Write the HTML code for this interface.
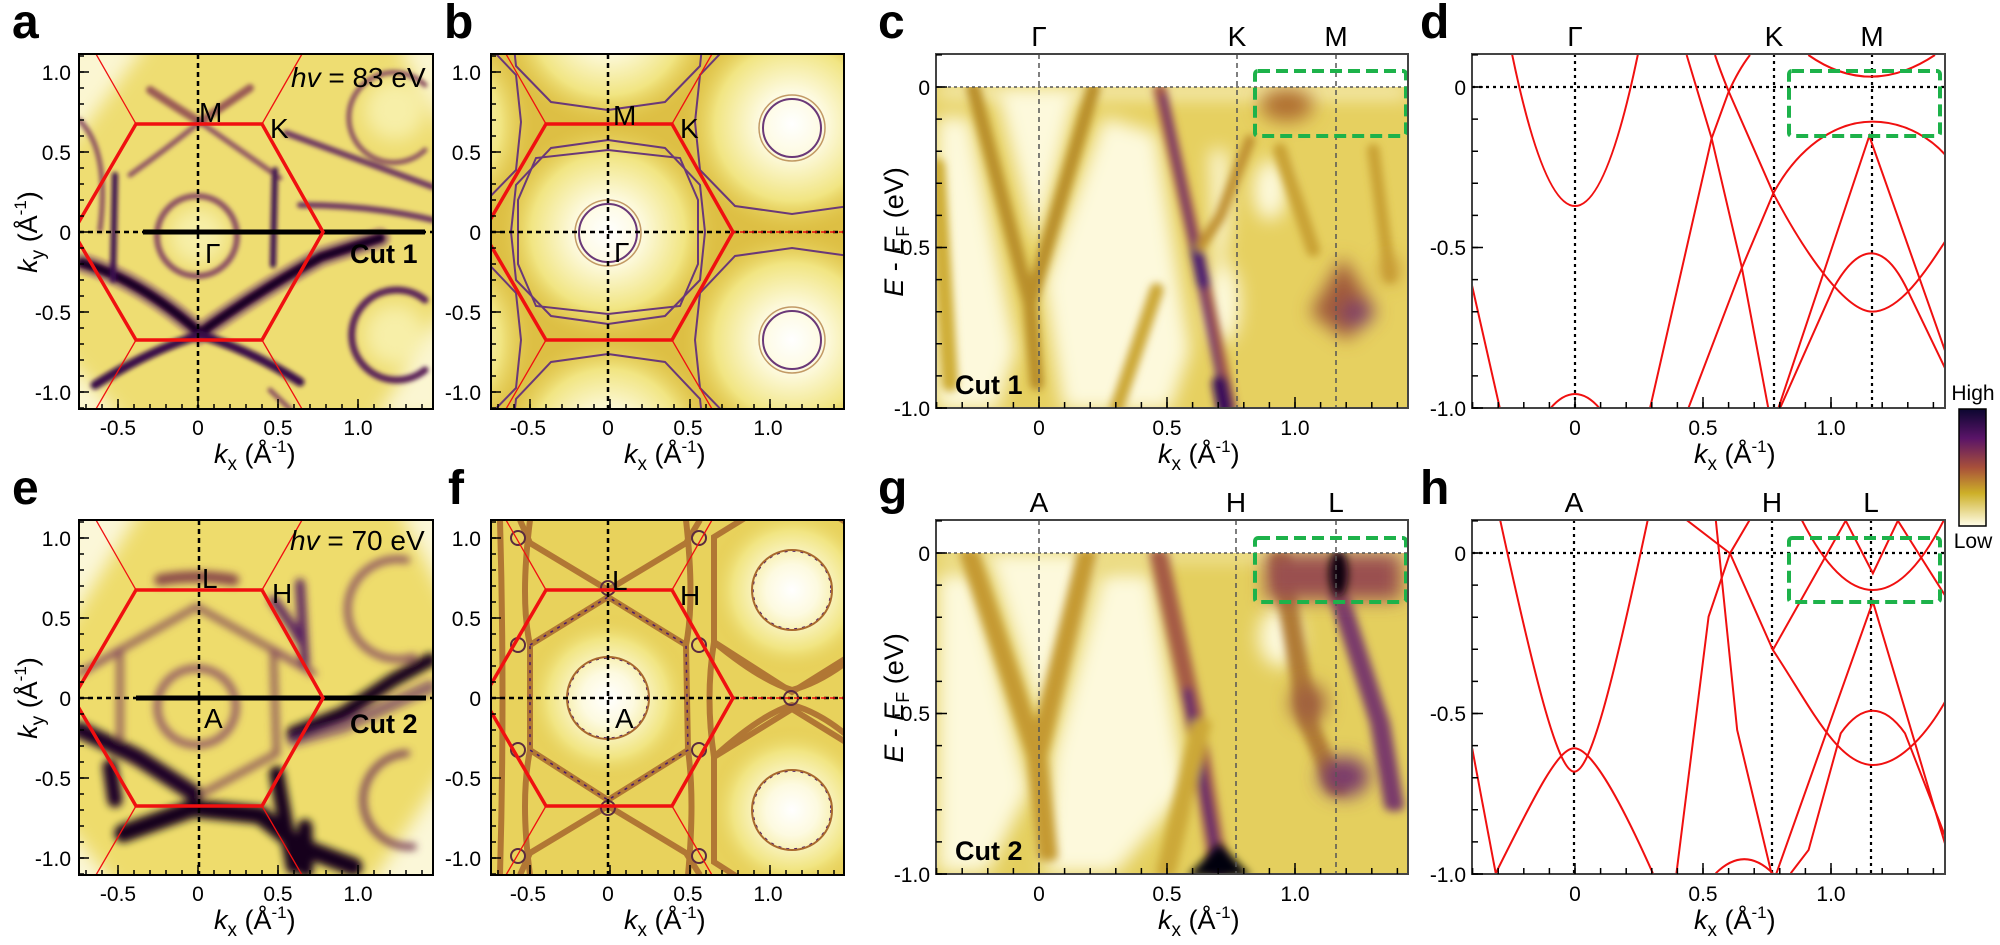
<!DOCTYPE html>
<html><head><meta charset="utf-8"><style>
html,body{margin:0;padding:0;background:#fff;}
svg{display:block;font-family:"Liberation Sans",sans-serif;}
.tl{font-size:21px;fill:#000;}
.ti{font-size:27px;fill:#000;}
.pl{font-size:48px;font-weight:bold;fill:#000;}
.lab{font-size:28px;fill:#000;}
.sym{font-size:27px;fill:#000;}
</style></head><body>
<svg width="2000" height="945" viewBox="0 0 2000 945" xmlns="http://www.w3.org/2000/svg">
<defs>
<filter id="b2" x="-20%" y="-20%" width="140%" height="140%"><feGaussianBlur stdDeviation="2"/></filter>
<filter id="b4" x="-20%" y="-20%" width="140%" height="140%"><feGaussianBlur stdDeviation="4"/></filter>
<filter id="b8" x="-30%" y="-30%" width="160%" height="160%"><feGaussianBlur stdDeviation="9"/></filter>
<filter id="z12" x="-30%" y="-30%" width="160%" height="160%"><feGaussianBlur stdDeviation="12"/></filter>
<filter id="z27" x="-40%" y="-40%" width="180%" height="180%"><feGaussianBlur stdDeviation="27"/></filter>
<filter id="g12" x="-30%" y="-30%" width="160%" height="160%"><feGaussianBlur stdDeviation="6 13"/></filter>
<filter id="g27" x="-40%" y="-40%" width="180%" height="180%"><feGaussianBlur stdDeviation="13 28"/></filter>
<clipPath id="cA"><rect x="79" y="54" width="354" height="355"/></clipPath>
<clipPath id="cB"><rect x="491" y="54" width="353" height="355"/></clipPath>
<clipPath id="cE"><rect x="79" y="520" width="354" height="355"/></clipPath>
<clipPath id="cF"><rect x="491" y="520" width="353" height="355"/></clipPath>
<clipPath id="cC"><rect x="936" y="54" width="472" height="354"/></clipPath>
<clipPath id="cG"><rect x="936" y="520" width="472" height="354"/></clipPath>
<clipPath id="cD"><rect x="1472" y="54" width="473" height="354"/></clipPath>
<clipPath id="cH"><rect x="1472" y="520" width="473" height="354"/></clipPath>
<radialGradient id="rg" cx="0.5" cy="0.5" r="0.5">
<stop offset="0" stop-color="#ffffff"/><stop offset="0.3" stop-color="#fdfae0"/><stop offset="0.7" stop-color="#f1e582"/><stop offset="1" stop-color="#e2c84c" stop-opacity="0"/>
</radialGradient>
<linearGradient id="cbar" x1="0" y1="0" x2="0" y2="1">
<stop offset="0" stop-color="#0c0630"/><stop offset="0.25" stop-color="#5a1468"/><stop offset="0.5" stop-color="#a8503a"/><stop offset="0.72" stop-color="#cdb028"/><stop offset="1" stop-color="#fffde8"/>
</linearGradient>

<g id="tkA" stroke="#000" stroke-width="1.5" fill="none">
<path d="M86,409v-5m16,5v-5m16,5v-5m16,5v-5m16,5v-5m16,5v-5m16,5v-5m16,5v-5m16,5v-5m16,5v-5m16,5v-5m16,5v-5m16,5v-5m16,5v-5m16,5v-5m16,5v-5m16,5v-5m16,5v-5m16,5v-5m16,5v-5m16,5v-5m16,5v-5"/>
<path d="M118,409v-10M198,409v-10M278,409v-10M358,409v-10"/>
<path d="M79,56h5m-5,16h5m-5,16h5m-5,16h5m-5,16h5m-5,16h5m-5,16h5m-5,16h5m-5,16h5m-5,16h5m-5,16h5m-5,16h5m-5,16h5m-5,16h5m-5,16h5m-5,16h5m-5,16h5m-5,16h5m-5,16h5m-5,16h5m-5,16h5m-5,16h5m-5,16h5"/>
<path d="M79,72h10M79,152h10M79,232h10M79,312h10M79,392h10"/>
</g>
<g id="lbA">
<g class="tl" text-anchor="end"><text x="71" y="80">1.0</text><text x="71" y="160">0.5</text><text x="71" y="240">0</text><text x="71" y="320">-0.5</text><text x="71" y="400">-1.0</text></g>
<g class="tl" text-anchor="middle"><text x="118" y="435">-0.5</text><text x="198" y="435">0</text><text x="278" y="435">0.5</text><text x="358" y="435">1.0</text></g>
<text class="ti" x="214" y="463"><tspan font-style="italic">k</tspan><tspan font-size="19" dy="7">x</tspan><tspan dy="-7"> (Å</tspan><tspan font-size="17" dy="-11">-1</tspan><tspan dy="11">)</tspan></text>
</g>
<g id="hexA" fill="none" stroke="#f01010">
<polygon points="136,124 262,124 323,232 262,340 136,340 73,232" stroke-width="3.5"/>
<path d="M136,124 L96,54 M262,124 L302,54 M136,340 L96,409 M262,340 L302,409" stroke-width="1.3"/>
</g>
<g id="tkC" stroke="#000" stroke-width="1.5" fill="none">
<path d="M936.6,408v-6m25.6,6v-6m25.6,6v-6m25.6,6v-6m25.6,6v-6m25.6,6v-6m25.6,6v-6m25.6,6v-6m25.6,6v-6m25.6,6v-6m25.6,6v-6m25.6,6v-6m25.6,6v-6m25.6,6v-6m25.6,6v-6m25.6,6v-6m25.6,6v-6m25.6,6v-6m25.6,6v-6"/>
<path d="M1039,408v-11M1167,408v-11M1295,408v-11"/>
<path d="M936,54.9h6m-6,32.1h6m-6,32.1h6m-6,32.1h6m-6,32.1h6m-6,32.1h6m-6,32.1h6m-6,32.1h6m-6,32.1h6m-6,32.1h6m-6,32.1h6m-6,32.1h6"/>
<path d="M936,87h11M936,247.5h11M936,408h11"/>
</g>
<g id="lbC">
<g class="tl" text-anchor="end"><text x="930" y="95">0</text><text x="930" y="255">-0.5</text><text x="930" y="416">-1.0</text></g>
<g class="tl" text-anchor="middle"><text x="1039" y="435">0</text><text x="1167" y="435">0.5</text><text x="1295" y="435">1.0</text></g>
<text class="ti" x="1158" y="463"><tspan font-style="italic">k</tspan><tspan font-size="19" dy="7">x</tspan><tspan dy="-7"> (Å</tspan><tspan font-size="17" dy="-11">-1</tspan><tspan dy="11">)</tspan></text>
</g>
</defs>

<!-- ================= PANEL A ================= -->
<g clip-path="url(#cA)">
<rect x="79" y="54" width="354" height="355" fill="#eedd72"/>
<g filter="url(#b8)" fill="#fbf6d2">
<polygon points="60,40 150,40 60,160"/><polygon points="60,350 60,420 125,420"/><polygon points="395,40 450,40 450,140"/><polygon points="450,300 450,420 375,420"/>
<ellipse cx="198" cy="236" rx="28" ry="28" fill="#f7efa8"/>
<ellipse cx="395" cy="110" rx="30" ry="30" fill="#f7efa8"/><ellipse cx="395" cy="335" rx="30" ry="30" fill="#f7efa8"/>
</g>
<g filter="url(#b2)" fill="none" stroke-linecap="round">
<circle cx="197" cy="236" r="40" stroke="#8a4d62" stroke-width="6"/>
<path d="M150,90 Q180,110 200,122 Q225,105 250,88" stroke="#9a5a55" stroke-width="8"/>
<path d="M200,122 Q165,150 130,175 M200,122 Q240,150 280,178" stroke="#8a4d62" stroke-width="5"/>
<path d="M82,263 Q140,280 200,333 Q260,290 321,257 L380,238" stroke="#5a1d66" stroke-width="20" opacity="0.45"/>
<path d="M82,263 Q140,280 200,333 Q260,290 321,257 L380,238" stroke="#1a0525" stroke-width="10"/>
<path d="M95,385 Q150,350 200,335 Q250,350 300,382" stroke="#3a0d4a" stroke-width="9"/>
<path d="M115,175 L113,280 M275,170 L273,265" stroke="#3a1050" stroke-width="6"/>
<path d="M286,133 Q360,160 433,187 M300,205 Q370,205 433,220" stroke="#6a3060" stroke-width="6"/>
<path d="M425,85 A45,45 0 1 0 425,150" stroke="#8a5060" stroke-width="5"/>
<path d="M425,300 A45,45 0 1 0 425,370" stroke="#5a2058" stroke-width="7"/>
<path d="M79,120 Q110,150 100,230 M270,390 L290,409" stroke="#8a5060" stroke-width="5"/>
</g>
</g>
<g fill="none" clip-path="url(#cA)">
<path d="M198,54 V409 M79,232 H433" stroke="#000" stroke-width="2.5" stroke-dasharray="5,4"/>
<path d="M143,232 H425" stroke="#000" stroke-width="5"/>
<use href="#hexA"/>
</g>
<rect x="79" y="54" width="354" height="355" fill="none" stroke="#000" stroke-width="2"/>
<use href="#tkA"/><use href="#lbA"/>
<text class="lab" x="199" y="122">M</text><text class="lab" x="270" y="138">K</text><text class="lab" x="205" y="263">Γ</text>
<text class="lab" x="291" y="87"><tspan font-style="italic">hv</tspan> = 83 eV</text>
<text class="sym" x="350" y="263" font-weight="bold">Cut 1</text>
<text class="pl" x="12" y="38">a</text>
<text class="ti" transform="translate(37,232) rotate(-90)" text-anchor="middle"><tspan font-style="italic">k</tspan><tspan font-size="19" dy="7">y</tspan><tspan dy="-7"> (Å</tspan><tspan font-size="17" dy="-11">-1</tspan><tspan dy="11">)</tspan></text>

<!-- ================= PANEL B ================= -->
<g clip-path="url(#cB)">
<rect x="491" y="54" width="353" height="355" fill="#ddbf44"/>
<g fill="url(#rg)">
<circle cx="608" cy="232" r="110"/><circle cx="792" cy="124" r="110"/><circle cx="792" cy="340" r="110"/>
<circle cx="608" cy="18" r="110"/><circle cx="608" cy="446" r="110"/><circle cx="424" cy="124" r="110"/><circle cx="424" cy="340" r="110"/>
</g>
<g fill="none" stroke="#6a3878" stroke-width="2">
<circle cx="608" cy="233" r="29"/><circle cx="792" cy="128" r="29"/><circle cx="792" cy="340" r="29"/>
<polygon points="608,140 665,148 700,185 705,232 700,280 665,316 608,324 551,316 516,280 511,232 516,185 551,148"/>
<polygon points="608,150 680,158 698,200 698,264 680,306 608,314 536,306 518,264 518,200 536,158"/>
<polygon points="792,30 849,38 884,75 889,122 884,170 849,206 792,214 735,206 700,170 695,122 700,75 735,38"/>
<polygon points="792,248 849,256 884,293 889,340 884,388 849,424 792,432 735,424 700,388 695,340 700,293 735,256"/>
<polygon points="608,-74 665,-66 700,-29 705,18 700,66 665,102 608,110 551,102 516,66 511,18 516,-29 551,-66"/>
<polygon points="608,354 665,362 700,399 705,446 700,494 665,530 608,538 551,530 516,494 511,446 516,399 551,362"/>
<polygon points="424,30 481,38 516,75 521,122 516,170 481,206 424,214 367,206 332,170 327,122 332,75 367,38"/>
<polygon points="424,248 481,256 516,293 521,340 516,388 481,424 424,432 367,424 332,388 327,340 332,293 367,256"/>
</g>
<g fill="none" stroke="#a87030" stroke-width="1.5" opacity="0.7">
<circle cx="608" cy="233" r="33"/><circle cx="792" cy="128" r="33"/><circle cx="792" cy="340" r="33"/>
</g>
<path d="M608,54 V409 M491,232 H844" stroke="#000" stroke-width="2.5" stroke-dasharray="5,4" fill="none"/>
<path d="M731,232 H844" stroke="#f01010" stroke-width="1.5" stroke-dasharray="5,4"/>
<use href="#hexA" x="410"/>
</g>
<rect x="491" y="54" width="353" height="355" fill="none" stroke="#000" stroke-width="2"/>
<use href="#tkA" x="412"/><use href="#lbA" x="410"/>
<text class="lab" x="613" y="125">M</text><text class="lab" x="680" y="138">K</text><text class="lab" x="614" y="262">Γ</text>
<text class="pl" x="444" y="38">b</text>

<!-- ================= PANEL E ================= -->
<g clip-path="url(#cE)">
<rect x="79" y="520" width="354" height="355" fill="#eedc6c"/>
<g transform="translate(60,500) scale(0.3333)">
<g filter="url(#z27)" fill="#fbf7d8">
<polygon points="0,0 260,0 0,420"/><polygon points="0,950 0,1200 200,1200"/><polygon points="1000,0 1200,0 1200,380"/><polygon points="1200,750 1200,1200 900,1200"/>
</g>
<g filter="url(#z12)" fill="none" stroke-linecap="round">
<ellipse cx="410" cy="620" rx="118" ry="115" stroke="#8a4d62" stroke-width="20"/>
<polygon points="180,450 410,320 640,450 650,760 410,890 180,760" stroke="#905a5a" stroke-width="20"/>
<path d="M300,240 Q410,220 520,240" stroke="#8a4a4a" stroke-width="35"/>
<path d="M720,250 L735,500 M640,300 Q700,380 720,420" stroke="#5a2060" stroke-width="28"/>
<path d="M60,690 L230,770 L400,880" stroke="#1a0525" stroke-width="50"/>
<path d="M150,800 L165,900" stroke="#1a0525" stroke-width="45"/>
<path d="M190,1000 L400,925 L600,945 L720,1040 L880,1100" stroke="#12031c" stroke-width="55"/>
<path d="M650,820 L700,1100 M735,980 L738,1110" stroke="#12031c" stroke-width="45"/>
<path d="M700,700 L850,640 L1000,540 L1110,480" stroke="#12031c" stroke-width="42"/>
<path d="M700,720 L850,680 L1110,560" stroke="#5a1d66" stroke-width="40" opacity="0.6"/>
<path d="M1040,180 A150,150 0 1 0 1060,470" stroke="#8a5060" stroke-width="20"/>
<path d="M1040,760 A140,140 0 1 0 1060,1040" stroke="#7a4058" stroke-width="20"/>
<path d="M180,450 L60,520 M640,450 L760,520" stroke="#8a5060" stroke-width="20"/>
</g>
</g>
</g>
<g fill="none" clip-path="url(#cE)">
<path d="M199,520 V875 M79,698 H433" stroke="#000" stroke-width="2.5" stroke-dasharray="5,4"/>
<path d="M136,698 H426" stroke="#000" stroke-width="5"/>
<use href="#hexA" y="466"/>
</g>
<rect x="79" y="520" width="354" height="355" fill="none" stroke="#000" stroke-width="2"/>
<use href="#tkA" y="466"/><use href="#lbA" y="466"/>
<text class="lab" x="202" y="588">L</text><text class="lab" x="272" y="603">H</text><text class="lab" x="204" y="728">A</text>
<text class="lab" x="290" y="550"><tspan font-style="italic">hv</tspan> = 70 eV</text>
<text class="sym" x="350" y="733" font-weight="bold">Cut 2</text>
<text class="pl" x="12" y="504">e</text>
<text class="ti" transform="translate(37,698) rotate(-90)" text-anchor="middle"><tspan font-style="italic">k</tspan><tspan font-size="19" dy="7">y</tspan><tspan dy="-7"> (Å</tspan><tspan font-size="17" dy="-11">-1</tspan><tspan dy="11">)</tspan></text>

<!-- ================= PANEL F ================= -->
<g clip-path="url(#cF)">
<rect x="491" y="520" width="353" height="355" fill="#e8d25c"/>
<g fill="url(#rg)">
<circle cx="608" cy="698" r="85"/><circle cx="792" cy="590" r="85"/><circle cx="792" cy="810" r="85"/>
</g>
<g fill="none" stroke="#a8682e" stroke-width="6" opacity="0.85">
<polygon points="530,645 608,597 686,645 688,750 608,800 530,750"/>
<polygon points="714,537 792,489 870,537 872,642 792,692 714,642"/>
<polygon points="714,757 792,709 870,757 872,862 792,912 714,862"/>
<path d="M608,590 L530,543 L520,520 M608,590 L686,543 L700,520 M608,806 L530,853 L520,875 M608,806 L686,853 L700,875"/>
<path d="M530,520 Q520,600 530,645 M530,750 Q520,800 530,875 M686,520 Q695,600 686,645 M688,750 Q695,800 688,875"/>
<path d="M500,520 Q505,698 500,875 M714,642 Q705,698 714,757 M870,642 Q880,698 870,757"/>
<path d="M714,642 Q760,680 792,690 Q830,680 870,642 M714,757 Q760,715 792,705 Q830,715 870,757"/>
</g>
<g fill="none" stroke="#4a1a6a" stroke-width="1.5" stroke-dasharray="3,5">
<polygon points="530,645 608,597 686,645 688,750 608,800 530,750"/>
<circle cx="608" cy="698" r="40"/><circle cx="792" cy="590" r="39"/><circle cx="792" cy="810" r="39"/>
</g>
<g fill="none" stroke="#a8682e" stroke-width="2">
<circle cx="608" cy="698" r="41"/><circle cx="792" cy="590" r="40"/><circle cx="792" cy="810" r="40"/>
<circle cx="608" cy="588" r="7" stroke="#5a2a40"/><circle cx="608" cy="808" r="7" stroke="#5a2a40"/><circle cx="791" cy="698" r="7" stroke="#5a2a40"/>
<circle cx="518" cy="538" r="7" stroke="#5a2a40"/><circle cx="699" cy="538" r="7" stroke="#5a2a40"/><circle cx="518" cy="645" r="7" stroke="#5a2a40"/><circle cx="699" cy="645" r="7" stroke="#5a2a40"/>
<circle cx="518" cy="750" r="7" stroke="#5a2a40"/><circle cx="699" cy="750" r="7" stroke="#5a2a40"/><circle cx="518" cy="856" r="7" stroke="#5a2a40"/><circle cx="699" cy="856" r="7" stroke="#5a2a40"/>
</g>
<path d="M608,520 V875 M491,698 H844" stroke="#000" stroke-width="2.5" stroke-dasharray="5,4" fill="none"/>
<path d="M731,698 H844" stroke="#f01010" stroke-width="1.5" stroke-dasharray="5,4"/>
<use href="#hexA" x="410" y="466"/>
</g>
<rect x="491" y="520" width="353" height="355" fill="none" stroke="#000" stroke-width="2"/>
<use href="#tkA" x="412" y="466"/><use href="#lbA" x="410" y="466"/>
<text class="lab" x="612" y="590">L</text><text class="lab" x="680" y="605">H</text><text class="lab" x="615" y="728">A</text>
<text class="pl" x="448" y="504">f</text>

<!-- ================= PANEL C ================= -->
<g clip-path="url(#cC)">
<rect x="936" y="87" width="472" height="321" fill="#e6d060"/>
<g transform="translate(930,50) scale(0.3333)">
<g filter="url(#z27)" fill="#fdf9dc">
<polygon points="20,200 120,200 260,900 200,1080 20,1080"/>
<polygon points="200,130 440,130 320,600"/>
<polygon points="520,200 680,250 780,900 720,1080 400,1080 340,700"/>
<polygon points="840,300 890,300 900,500 860,800"/>
<ellipse cx="1020" cy="420" rx="50" ry="90"/>
<ellipse cx="880" cy="760" rx="50" ry="120"/>
<polygon points="20,110 1430,110 1430,140 20,140"/>
</g>
<g filter="url(#z12)" fill="none" stroke-linecap="round">
<path d="M130,115 L300,760 L320,1000" stroke="#b98f2a" stroke-width="42"/>
<path d="M490,115 L300,760" stroke="#b98f2a" stroke-width="42"/>
<path d="M20,350 L60,1000" stroke="#cfae38" stroke-width="50"/>
<path d="M690,120 L800,600 L900,1075" stroke="#a55a45" stroke-width="40"/>
<path d="M700,140 L800,620 L880,1050" stroke="#6a2a70" stroke-width="16"/>
<path d="M800,600 L820,700" stroke="#4a1a70" stroke-width="38"/>
<path d="M870,1000 L885,1075" stroke="#3a0a5a" stroke-width="48"/>
<path d="M810,590 L870,500 L960,270" stroke="#bf9030" stroke-width="32"/>
<path d="M680,720 L560,1075" stroke="#cca838" stroke-width="42"/>
<path d="M1050,300 L1150,600" stroke="#c9a235" stroke-width="42"/>
<path d="M1330,300 L1380,680" stroke="#c9a235" stroke-width="38"/>
</g>
<g filter="url(#z27)">
<ellipse cx="1070" cy="165" rx="80" ry="50" fill="#b07030"/>
<polygon points="1240,620 1340,790 1250,870 1140,790" fill="#a05a3a"/>
<ellipse cx="1280" cy="790" rx="45" ry="35" fill="#7a3a6a"/>
<ellipse cx="1380" cy="660" rx="30" ry="40" fill="#c89a38"/>
</g>
</g>
</g>
<rect x="936" y="54" width="472" height="33" fill="#fff"/>
<g fill="none" stroke="#555" stroke-width="1.5" stroke-dasharray="5,4">
<path d="M1039,54 V408 M1237,54 V408 M1336,54 V408"/>
<path d="M936,87 H1408" stroke-dasharray="3,3"/>
</g>
<rect x="1255" y="71" width="151" height="65" rx="3" fill="none" stroke="#1db24a" stroke-width="4" stroke-dasharray="12,6"/>
<rect x="936" y="54" width="472" height="354" fill="none" stroke="#444" stroke-width="2"/>
<use href="#tkC"/><use href="#lbC"/>
<text class="sym" x="955" y="394" font-weight="bold" font-size="25">Cut 1</text>
<g class="lab" text-anchor="middle"><text x="1039" y="46">Γ</text><text x="1237" y="46">K</text><text x="1336" y="46">M</text></g>
<text class="pl" x="878" y="38">c</text>
<text class="ti" transform="translate(903,232) rotate(-90)" text-anchor="middle"><tspan font-style="italic">E</tspan> - <tspan font-style="italic">E</tspan><tspan font-size="18" dy="6">F</tspan><tspan dy="-6"> (eV)</tspan></text>

<!-- ================= PANEL G ================= -->
<g clip-path="url(#cG)">
<rect x="936" y="553" width="472" height="321" fill="#e4cf5e"/>
<g transform="translate(880,490) scale(0.7143,0.3333)">
<g filter="url(#g27)" fill="#fdf9dc">
<polygon points="80,250 130,250 210,900 150,1150 80,1150"/>
<polygon points="150,200 300,200 225,700"/>
<polygon points="310,250 380,250 430,900 330,1150 230,1150 240,800"/>
<ellipse cx="560" cy="440" rx="30" ry="90"/>
<polygon points="80,185 740,185 740,205 80,205"/>
</g>
<g filter="url(#g12)" fill="none" stroke-linecap="round">
<path d="M125,190 L220,800 L235,1100" stroke="#c59a30" stroke-width="28"/>
<path d="M290,190 L220,800" stroke="#c59a30" stroke-width="28"/>
<path d="M390,190 L440,680 L475,1150" stroke="#a55a45" stroke-width="26"/>
<path d="M430,600 L475,1150" stroke="#5a1a70" stroke-width="12"/>
<path d="M560,200 L600,700 L640,900" stroke="#b07a35" stroke-width="28"/>
<path d="M640,300 L700,700 L720,950" stroke="#7a3a6a" stroke-width="28"/>
<path d="M450,700 L400,1150" stroke="#cca838" stroke-width="28"/>
</g>
<g filter="url(#g27)">
<rect x="540" y="190" width="190" height="140" fill="#9a5050"/>
<ellipse cx="650" cy="860" rx="35" ry="60" fill="#7a3a6a"/>
<ellipse cx="600" cy="640" rx="25" ry="60" fill="#a06040"/>
</g>
<g filter="url(#g12)">
<ellipse cx="642" cy="250" rx="13" ry="70" fill="#0a0010"/>
<polygon points="430,1160 475,1060 520,1160" fill="#05000a"/>
</g>
</g>
</g>
<rect x="936" y="520" width="472" height="33" fill="#fff"/>
<g fill="none" stroke="#555" stroke-width="1.5" stroke-dasharray="5,4">
<path d="M1039,520 V874 M1236,520 V874 M1336,520 V874"/>
<path d="M936,553 H1408" stroke-dasharray="3,3"/>
</g>
<rect x="1255" y="538" width="151" height="64" rx="3" fill="none" stroke="#1db24a" stroke-width="4" stroke-dasharray="12,6"/>
<rect x="936" y="520" width="472" height="354" fill="none" stroke="#444" stroke-width="2"/>
<use href="#tkC" y="466"/><use href="#lbC" y="466"/>
<text class="sym" x="955" y="860" font-weight="bold" font-size="25">Cut 2</text>
<g class="lab" text-anchor="middle"><text x="1039" y="512">A</text><text x="1236" y="512">H</text><text x="1336" y="512">L</text></g>
<text class="pl" x="878" y="504">g</text>
<text class="ti" transform="translate(903,698) rotate(-90)" text-anchor="middle"><tspan font-style="italic">E</tspan> - <tspan font-style="italic">E</tspan><tspan font-size="18" dy="6">F</tspan><tspan dy="-6"> (eV)</tspan></text>

<!-- ================= PANEL D ================= -->
<g clip-path="url(#cD)">
<g fill="none" stroke="#000" stroke-width="2.2" stroke-dasharray="3,4">
<path d="M1575,54 V408 M1774,54 V408 M1872,54 V408 M1472,87 H1945"/>
</g>
<g fill="none" stroke="#f01010" stroke-width="2">
<path d="M1511,49 Q1575,363 1639,49"/>
<path d="M1549,410 Q1575,378 1601,410"/>
<path d="M1471,281 L1500,409"/>
<g transform="translate(1620,50) scale(0.3333)">
<path vector-effect="non-scaling-stroke" d="M90,1075 L275,265 L325,128 Q355,60 390,15"/>
<path vector-effect="non-scaling-stroke" d="M285,15 Q300,60 325,122 L460,430 C560,620 680,785 757,785 C840,785 920,660 985,560"/>
<path vector-effect="non-scaling-stroke" d="M200,15 L275,265 L365,650 L445,1075"/>
<path vector-effect="non-scaling-stroke" d="M205,1075 L365,655 L460,430 C530,300 640,215 757,215 C860,215 940,270 985,325"/>
<path vector-effect="non-scaling-stroke" d="M475,1075 L748,258 L985,930"/>
<path vector-effect="non-scaling-stroke" d="M480,1075 L640,715 Q757,505 860,715 L985,975"/>
<path vector-effect="non-scaling-stroke" d="M565,15 Q750,145 945,15"/>
</g>
</g>
</g>
<rect x="1789" y="71" width="151" height="65" rx="3" fill="none" stroke="#1db24a" stroke-width="4" stroke-dasharray="12,6"/>
<rect x="1472" y="54" width="473" height="354" fill="none" stroke="#444" stroke-width="2"/>
<use href="#tkC" x="536"/><use href="#lbC" x="536"/>
<g class="lab" text-anchor="middle"><text x="1575" y="46">Γ</text><text x="1774" y="46">K</text><text x="1872" y="46">M</text></g>
<text class="pl" x="1420" y="38">d</text>

<!-- ================= PANEL H ================= -->
<g clip-path="url(#cH)">
<g fill="none" stroke="#000" stroke-width="2.2" stroke-dasharray="3,4">
<path d="M1574,520 V874 M1772,520 V874 M1871,520 V874 M1472,553 H1945"/>
</g>
<g fill="none" stroke="#f01010" stroke-width="2" transform="translate(880,490) scale(0.7143,0.3333)">
<path vector-effect="non-scaling-stroke" d="M868,88 C920,600 950,845 972,845 C994,845 1024,600 1075,88"/>
<path vector-effect="non-scaling-stroke" d="M829,775 L862,1150"/>
<path vector-effect="non-scaling-stroke" d="M862,1150 C920,900 950,775 972,775 C994,775 1030,900 1082,1150"/>
<path vector-effect="non-scaling-stroke" d="M1218,88 L1190,190 L1160,380 L1115,1150"/>
<path vector-effect="non-scaling-stroke" d="M1128,88 L1190,190 L1250,480 C1300,640 1340,825 1390,825 C1430,825 1470,720 1495,620"/>
<path vector-effect="non-scaling-stroke" d="M1170,88 L1200,720 L1248,1150"/>
<path vector-effect="non-scaling-stroke" d="M1170,1150 Q1210,1065 1250,1150"/>
<path vector-effect="non-scaling-stroke" d="M1255,1150 L1390,335 L1495,1090"/>
<path vector-effect="non-scaling-stroke" d="M1275,1150 L1300,1080 L1345,730 Q1390,595 1435,730 L1495,1060"/>
<path vector-effect="non-scaling-stroke" d="M1250,480 L1352,92 L1390,250 L1425,92 L1495,330"/>
<path vector-effect="non-scaling-stroke" d="M1290,88 Q1390,512 1490,88"/>
</g>
</g>
<rect x="1789" y="538" width="151" height="64" rx="3" fill="none" stroke="#1db24a" stroke-width="4" stroke-dasharray="12,6"/>
<rect x="1472" y="520" width="473" height="354" fill="none" stroke="#444" stroke-width="2"/>
<use href="#tkC" x="536" y="466"/><use href="#lbC" x="536" y="466"/>
<g class="lab" text-anchor="middle"><text x="1574" y="512">A</text><text x="1772" y="512">H</text><text x="1871" y="512">L</text></g>
<text class="pl" x="1420" y="504">h</text>

<rect x="1959" y="409" width="27" height="117" fill="url(#cbar)" stroke="#000" stroke-width="1.5"/>
<text x="1973" y="400" font-size="21" text-anchor="middle">High</text>
<text x="1973" y="548" font-size="21" text-anchor="middle">Low</text>
</svg>
</body></html>
